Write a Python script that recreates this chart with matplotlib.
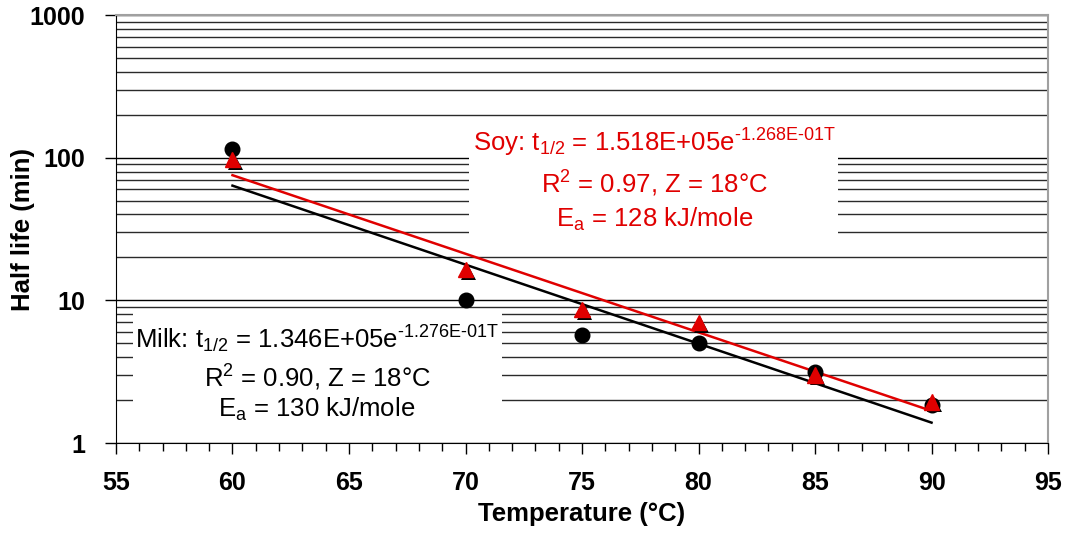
from matplotlib import pyplot as plt
from matplotlib import patheffects as pe
from matplotlib.patches import Rectangle
from matplotlib.ticker import MultipleLocator, LogLocator, NullFormatter

plt.rcParams['font.family'] = ['Liberation Sans', 'DejaVu Sans']
plt.rcParams['mathtext.fontset'] = 'custom'
plt.rcParams['mathtext.rm'] = 'Liberation Sans'
plt.rcParams['mathtext.it'] = 'Liberation Sans'

# measured half lives (min)
temps = [60, 70, 75, 80, 85, 90]
milk = [116, 10.1, 5.7, 5.0, 3.15, 1.85]
soy = [97, 16.4, 8.6, 7.0, 3.0, 1.94]

# exponential trend lines, end points
trend_t = [60, 90]
milk_trend = [63.7, 1.39]
soy_trend = [75.4, 1.68]

red = '#e00000'

fig = plt.figure(figsize=(10.68, 5.37), dpi=100)
ax = fig.add_axes([0.1086, 0.175, 0.8727, 0.797])

ax.set_yscale('log')
ax.set_xlim(55, 95)
ax.set_ylim(1, 1000)

# grid lines
ax.yaxis.set_major_locator(LogLocator(base=10))
ax.yaxis.set_minor_locator(LogLocator(base=10, subs=range(2, 10)))
ax.yaxis.set_minor_formatter(NullFormatter())
ax.grid(True, which='major', axis='y', color='black', lw=1)
ax.grid(True, which='minor', axis='y', color='#2a2a2a', lw=1)
ax.set_axisbelow(True)

ax.plot(trend_t, milk_trend, color='black', lw=1.8, zorder=3)
ax.plot(trend_t, soy_trend, color=red, lw=1.8, zorder=3)

ax.plot(temps, milk, 'o', color='black', ms=10.5, zorder=4)
ax.plot(temps, soy, '^', color=red, mec=red, ms=11, zorder=5,
        path_effects=[pe.SimplePatchShadow(offset=(2, -2), shadow_rgbFace='black', alpha=1), pe.Normal()])

# white boxes behind the equations
ax.add_patch(Rectangle((0.379, 0.451), 0.396, 0.304, transform=ax.transAxes,
                       facecolor='white', edgecolor='none', zorder=2))
ax.add_patch(Rectangle((0.018, 0.03), 0.396, 0.281, transform=ax.transAxes,
                       facecolor='white', edgecolor='none', zorder=2))

fs = 18.5
ax.text(0.578, 0.680, r'Soy: t$_{\mathregular{1/2}}$ = 1.518E+05e$^{\text{-1.268E-01T}}$',
        color=red, fontsize=fs, ha='center', va='baseline', transform=ax.transAxes, zorder=6)
ax.text(0.578, 0.584, r'R$^{\mathregular{2}}$ = 0.97, Z = 18°C',
        color=red, fontsize=fs, ha='center', va='baseline', transform=ax.transAxes, zorder=6)
ax.text(0.578, 0.505, r'E$_{\mathregular{a}}$ = 128 kJ/mole',
        color=red, fontsize=fs, ha='center', va='baseline', transform=ax.transAxes, zorder=6)

ax.text(0.2157, 0.222, r'Milk: t$_{\mathregular{1/2}}$ = 1.346E+05e$^{\text{-1.276E-01T}}$',
        color='black', fontsize=fs, ha='center', va='baseline', transform=ax.transAxes, zorder=6)
ax.text(0.2157, 0.131, r'R$^{\mathregular{2}}$ = 0.90, Z = 18°C',
        color='black', fontsize=fs, ha='center', va='baseline', transform=ax.transAxes, zorder=6)
ax.text(0.2157, 0.061, r'E$_{\mathregular{a}}$ = 130 kJ/mole',
        color='black', fontsize=fs, ha='center', va='baseline', transform=ax.transAxes, zorder=6)

# axes and ticks
ax.xaxis.set_major_locator(MultipleLocator(5))
ax.xaxis.set_minor_locator(MultipleLocator(1))
ax.tick_params(axis='x', which='major', direction='out', length=8, width=1, pad=12)
ax.tick_params(axis='x', which='minor', direction='out', length=6, width=1)
ax.tick_params(axis='y', which='major', direction='out', length=8, width=1, pad=14)
ax.tick_params(axis='y', which='minor', length=0)
ax.set_yticks([1, 10, 100, 1000])
ax.set_yticklabels(['1', '10', '100', '1000'])
for lab in ax.get_xticklabels() + ax.get_yticklabels():
    lab.set_fontweight('bold')
    lab.set_fontsize(18)

ax.spines['left'].set_color('black')
ax.spines['bottom'].set_color('black')
ax.spines['top'].set_color('#a0a0a0')
ax.spines['right'].set_color('#a0a0a0')
ax.spines['top'].set_linewidth(1.5)
ax.spines['right'].set_linewidth(1.5)

ax.set_xlabel('Temperature (°C)', fontsize=18.5, fontweight='bold')
ax.set_ylabel('Half life (min)', fontsize=18.5, fontweight='bold')
ax.xaxis.set_label_coords(0.5, -0.138)
ax.yaxis.set_label_coords(-0.087, 0.5)

plt.savefig('out.png', dpi=100)
